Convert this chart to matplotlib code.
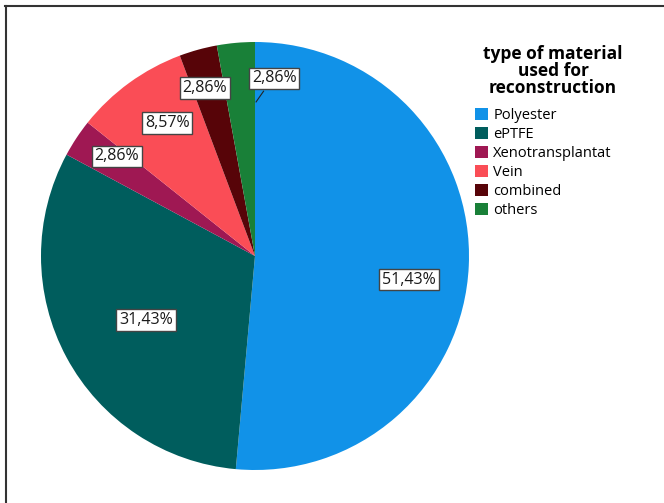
import matplotlib.pyplot as plt
from matplotlib.patches import Patch
from matplotlib.lines import Line2D

# data
materials = ['Polyester', 'ePTFE', 'Xenotransplantat', 'Vein', 'combined', 'others']
counts = [18, 11, 1, 3, 1, 1]
pct_labels = ['51,43%', '31,43%', '2,86%', '8,57%', '2,86%', '2,86%']
colors = ['#1192e8', '#005d5d', '#9f1853', '#fa4d56', '#570408', '#198038']

# where each label box sits (unit-circle coords)
label_pos = [(0.72, -0.11), (-0.51, -0.30), (-0.645, 0.465), (-0.41, 0.62), (-0.235, 0.785), (0.09, 0.83)]

plt.rcParams['font.family'] = ['Open Sans', 'DejaVu Sans']

W, H = 664, 503
fig = plt.figure(figsize=(W / 100, H / 100), dpi=100)

cx, cy, r = 255, 256, 214
ax = fig.add_axes([(cx - r) / W, (H - cy - r) / H, 2 * r / W, 2 * r / H])
ax.pie(counts, colors=colors, startangle=90, counterclock=False, radius=1,
       wedgeprops=dict(linewidth=0))
ax.set_xlim(-1, 1)
ax.set_ylim(-1, 1)
ax.set_aspect('auto')
ax.axis('off')

for (x, y), txt in zip(label_pos, pct_labels):
    ax.text(x, y, txt, ha='center', va='center', fontsize=11.5, color='#1a1a1a',
            bbox=dict(boxstyle='square,pad=0.18', fc='white', ec='#444444', lw=1))

# leader line for the "others" slice
ax.plot([0.04, 0.005], [0.77, 0.72], color='#222222', lw=0.8)

# legend
fig.text(553 / W, 1 - 71 / H, 'type of material\nused for\nreconstruction',
         ha='center', va='center', fontsize=12.5, fontweight='bold', linespacing=0.95)
handles = [Patch(facecolor=c, edgecolor='none') for c in colors]
fig.legend(handles, materials, loc='upper left', bbox_to_anchor=(475 / W, 1 - 108 / H),
           frameon=False, fontsize=10.5, handlelength=0.9, handleheight=0.9,
           handletextpad=0.35, labelspacing=0.27, borderpad=0, borderaxespad=0)

# frame of the original screenshot
fig.add_artist(Line2D([5 / W, 1], [1 - 5.5 / H, 1 - 5.5 / H], color='#333333', lw=1.5))
fig.add_artist(Line2D([5.5 / W, 5.5 / W], [0, 1 - 5.5 / H], color='#333333', lw=1.5))

fig.savefig('out.png', dpi=100)
